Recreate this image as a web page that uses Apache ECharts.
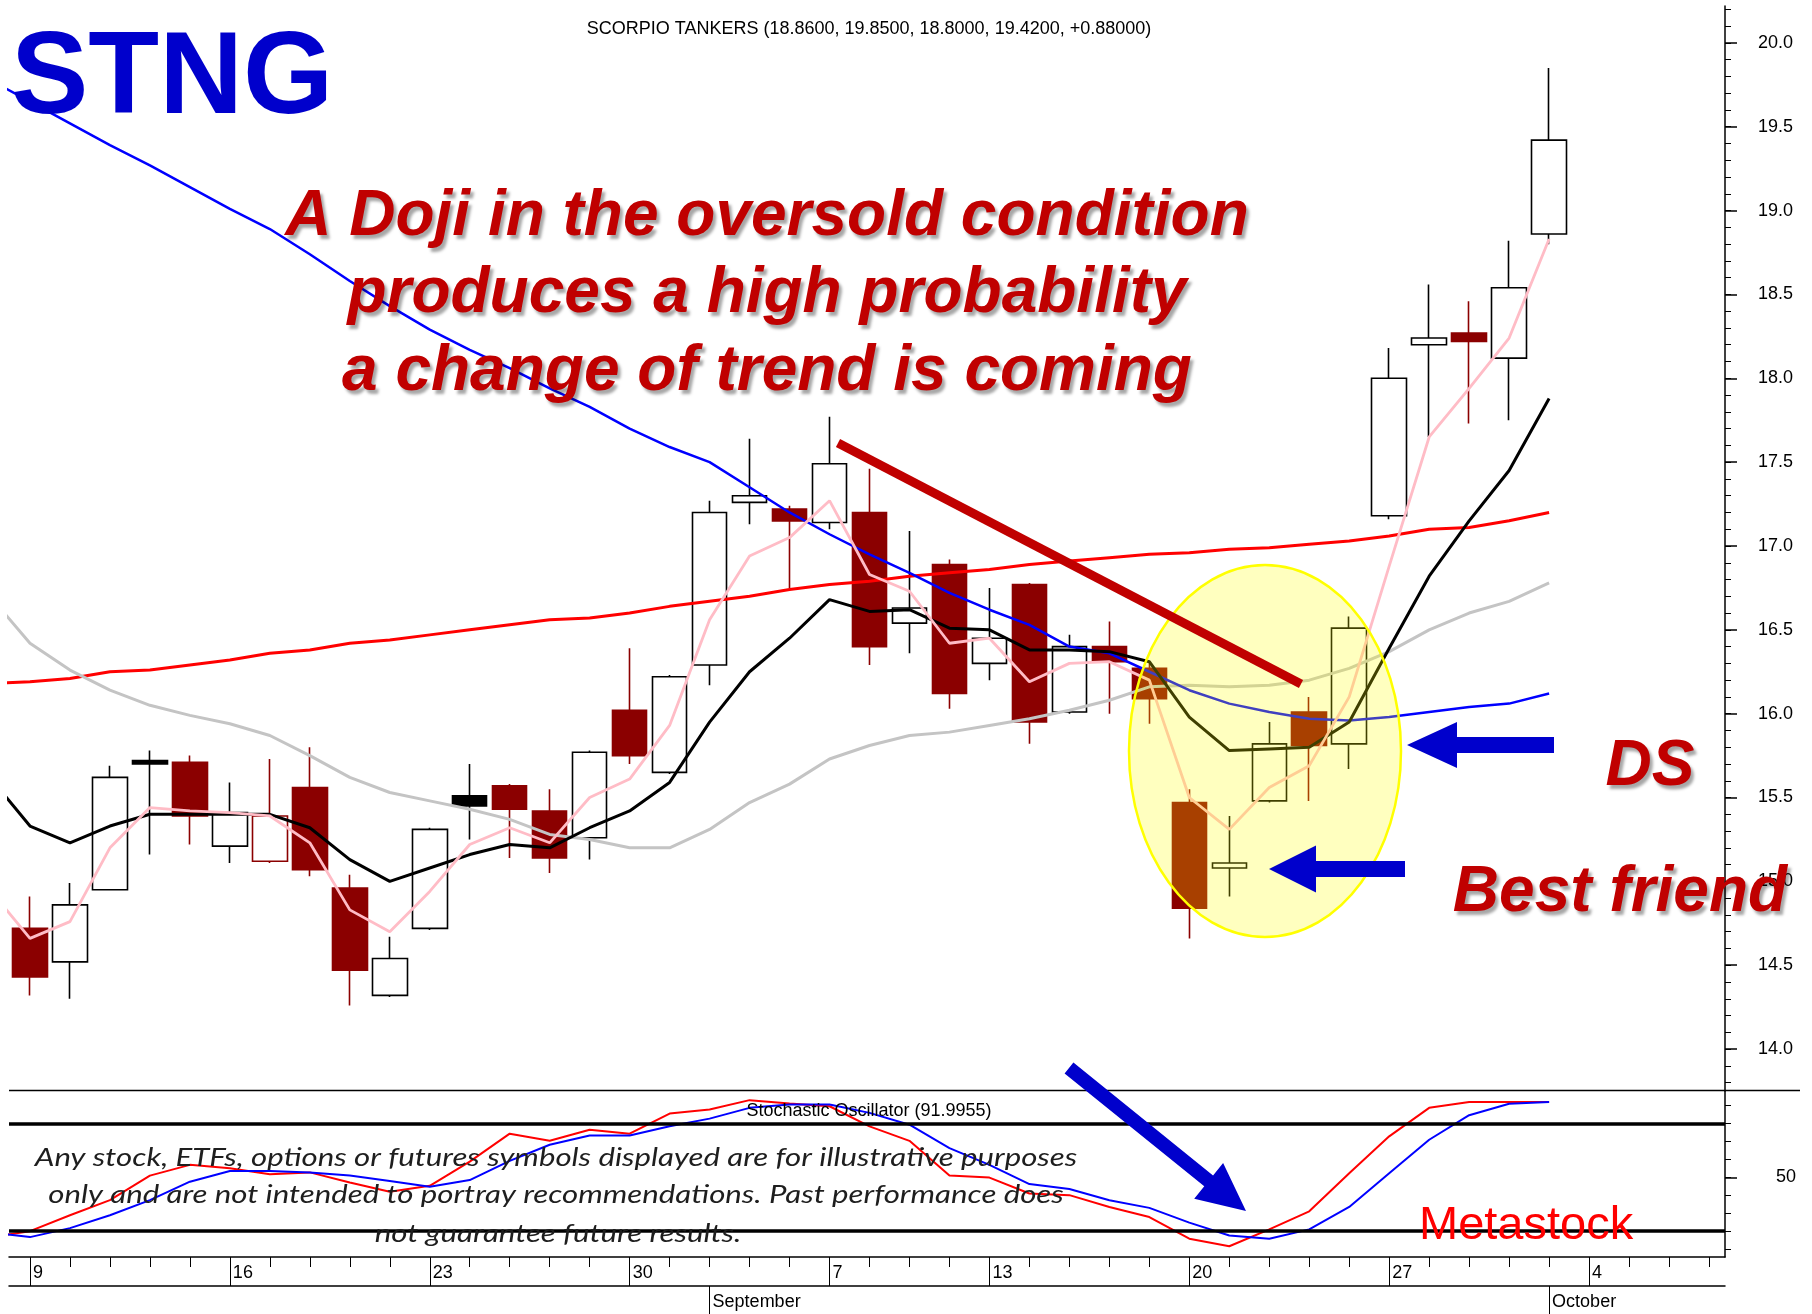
<!DOCTYPE html>
<html>
<head>
<meta charset="utf-8">
<title>STNG - Scorpio Tankers</title>
<script src="https://cdn.jsdelivr.net/npm/echarts@6/dist/echarts.min.js"></script>
<style>
  html, body { margin: 0; padding: 0; background: #fff; }
  #chart { width: 1812px; height: 1314px; }
</style>
</head>
<body>
<div id="chart"></div>
<script>
// daily sessions, Aug 9 .. Oct 1 2021
const dates = [
  '08-09', '08-10', '08-11', '08-12', '08-13', '08-16', '08-17', '08-18', '08-19', '08-20',
  '08-23', '08-24', '08-25', '08-26', '08-27', '08-30', '08-31', '09-01', '09-02', '09-03',
  '09-07', '09-08', '09-09', '09-10', '09-13', '09-14', '09-15', '09-16', '09-17', '09-20',
  '09-21', '09-22', '09-23', '09-24', '09-27', '09-28', '09-29', '09-30', '10-01'
];
const opens = [
  14.72, 14.52, 14.95, 15.72, 15.71, 15.21, 15.12, 15.56, 14.96, 14.32,
  14.72, 15.51, 15.57, 15.42, 15.26, 16.02, 15.65, 16.29, 17.26, 17.22,
  17.14, 17.20, 16.54, 16.89, 16.30, 16.77, 16.01, 16.40, 16.27, 15.47,
  15.08, 15.48, 16.01, 15.82, 17.18, 18.20, 18.27, 18.12, 18.86
];
const highs = [
  14.91, 14.99, 15.69, 15.78, 15.75, 15.59, 15.73, 15.80, 15.04, 14.67,
  15.32, 15.70, 15.58, 15.55, 15.78, 16.39, 16.23, 17.27, 17.64, 17.24,
  17.77, 17.46, 17.09, 16.92, 16.75, 16.78, 16.47, 16.55, 16.31, 15.55,
  15.39, 15.95, 16.10, 16.58, 18.18, 18.56, 18.46, 18.82, 19.85
];
const lows = [
  14.32, 14.30, 14.95, 15.16, 15.22, 15.11, 15.11, 15.03, 14.26, 14.31,
  14.71, 15.25, 15.14, 15.05, 15.13, 15.70, 15.64, 16.17, 17.13, 16.75,
  17.10, 16.29, 16.36, 16.03, 16.20, 15.82, 16.00, 16.00, 15.94, 14.66,
  14.91, 15.47, 15.48, 15.67, 17.16, 17.65, 17.73, 17.75, 18.80
];
const closes = [
  14.43, 14.86, 15.62, 15.70, 15.39, 15.41, 15.39, 15.07, 14.47, 14.54,
  15.31, 15.45, 15.43, 15.14, 15.77, 15.75, 16.22, 17.20, 17.30, 17.15,
  17.49, 16.40, 16.63, 16.12, 16.45, 15.95, 16.40, 16.31, 16.09, 14.84,
  15.11, 15.82, 15.81, 16.51, 18.00, 18.24, 18.22, 18.54, 19.42
];

// the averages and the oscillator start one session earlier (Aug 6)
const maBlue = [
  19.78, 19.65, 19.52, 19.39, 19.27, 19.14, 19.01, 18.89, 18.74, 18.58,
  18.43, 18.29, 18.17, 18.06, 17.94, 17.83, 17.70, 17.59, 17.50, 17.35,
  17.20, 17.07, 16.95, 16.84, 16.72, 16.62, 16.53, 16.40, 16.36, 16.25,
  16.14, 16.06, 16.01, 15.97, 15.96, 15.98, 16.01, 16.04, 16.06, 16.12
];
const maRed = [
  16.18, 16.19, 16.21, 16.25, 16.26, 16.29, 16.32, 16.36, 16.38, 16.42,
  16.44, 16.47, 16.50, 16.53, 16.56, 16.57, 16.60, 16.64, 16.67, 16.70,
  16.74, 16.77, 16.79, 16.82, 16.84, 16.86, 16.89, 16.91, 16.93, 16.95,
  16.96, 16.98, 16.99, 17.01, 17.03, 17.06, 17.10, 17.11, 17.15, 17.20
];
const maGrey = [
  16.70, 16.42, 16.26, 16.14, 16.05, 15.99, 15.94, 15.87, 15.75, 15.62,
  15.53, 15.48, 15.43, 15.37, 15.28, 15.25, 15.20, 15.20, 15.31, 15.47,
  15.58, 15.73, 15.81, 15.87, 15.89, 15.93, 15.97, 16.02, 16.08, 16.16,
  16.17, 16.16, 16.17, 16.20, 16.27, 16.37, 16.50, 16.60, 16.67, 16.78
];
const maBlack = [
  15.62, 15.33, 15.23, 15.33, 15.40, 15.40, 15.40, 15.40, 15.32, 15.13,
  15.00, 15.08, 15.16, 15.22, 15.20, 15.32, 15.42, 15.59, 15.95, 16.25,
  16.45, 16.68, 16.61, 16.62, 16.51, 16.50, 16.38, 16.38, 16.37, 16.31,
  15.98, 15.78, 15.79, 15.80, 15.95, 16.39, 16.82, 17.15, 17.45, 17.88
];
const maPink = [
  14.95, 14.66, 14.76, 15.20, 15.44, 15.42, 15.41, 15.39, 15.23, 14.83,
  14.70, 14.94, 15.22, 15.32, 15.23, 15.50, 15.61, 15.93, 16.56, 16.94,
  17.05, 17.27, 16.83, 16.73, 16.42, 16.45, 16.19, 16.30, 16.31, 16.20,
  15.50, 15.31, 15.56, 15.69, 16.10, 16.88, 17.65, 17.94, 18.24, 18.83
];
const stochK = [
  16.6, 20.0, 28.9, 37.3, 51.0, 57.0, 55.1, 51.7, 52.8, 47.2,
  42.0, 45.3, 58.8, 74.4, 70.4, 76.6, 74.4, 85.6, 87.9, 93.1,
  91.2, 89.7, 78.5, 70.4, 51.0, 49.9, 41.0, 40.1, 33.5, 27.9,
  15.8, 11.6, 21.0, 31.1, 52.3, 72.9, 88.8, 92.0, 92.0, 92.0
];
const stochD = [
  19.3, 16.7, 21.7, 28.9, 37.3, 47.6, 53.6, 53.6, 52.8, 51.0,
  48.0, 44.8, 48.5, 59.2, 68.2, 73.4, 73.4, 78.5, 82.8, 88.8,
  90.7, 90.7, 86.0, 79.4, 66.3, 57.0, 46.3, 43.5, 37.3, 33.0,
  24.8, 17.6, 15.8, 21.0, 33.5, 52.3, 71.0, 84.7, 91.1, 92.0
];

// axis ticks and labels
const priceTicks = [14.0, 14.5, 15.0, 15.5, 16.0, 16.5, 17.0, 17.5, 18.0, 18.5, 19.0, 19.5, 20.0];
const stochTicks = [10, 20, 30, 40, 50, 60, 70, 80, 90];
const stochLabels = [50];
const dayTickIdx = [0, 5, 10, 15, 20, 24, 29, 34, 39];
const dayTickLabels = ['9', '16', '23', '30', '7', '13', '20', '27', '4'];
const monthTickIdx = [17, 38];
const monthLabels = ['September', 'October'];

const X_MIN = -0.525, X_MAX = 42.4;
const FONT = '"Liberation Sans", Arial, sans-serif';
const DARK_RED = '#8b0000';

const priceMinor = [];
for (let v = 138; v <= 202; v++) priceMinor.push(v / 10);
const allDays = [];
for (let i = 0; i <= 42; i++) allDays.push(i);

// hollow = close above open, red = close below the previous close
const candles = opens.map((o, i) => {
  const c = closes[i];
  const col = (i === 0 || c < closes[i - 1]) ? DARK_RED : '#000';
  const fill = c < o ? col : '#fff';
  return {
    value: [i, o, c, lows[i], highs[i]],
    itemStyle: { color: fill, color0: fill, borderColor: col, borderColor0: col, borderWidth: 1.6 }
  };
});

const priceLine = (data, color, width) => ({
  type: 'line', xAxisIndex: 0, yAxisIndex: 0,
  data: data.map((v, i) => [i - 1, v]),
  symbol: 'none', silent: true,
  lineStyle: { color: color, width: width }
});

const stochLine = (data, color) => ({
  type: 'line', xAxisIndex: 1, yAxisIndex: 2,
  data: data.map((v, i) => [i - 1, v]),
  symbol: 'none', silent: true,
  lineStyle: { color: color, width: 2 }
});

function arrowPoints(x1, y1, x2, y2, shaft, head, headLen) {
  const len = Math.hypot(x2 - x1, y2 - y1);
  const ux = (x2 - x1) / len, uy = (y2 - y1) / len;
  const nx = -uy, ny = ux;
  const bx = x2 - ux * headLen, by = y2 - uy * headLen;
  return [
    [x1 + nx * shaft, y1 + ny * shaft],
    [bx + nx * shaft, by + ny * shaft],
    [bx + nx * head, by + ny * head],
    [x2, y2],
    [bx - nx * head, by - ny * head],
    [bx - nx * shaft, by - ny * shaft],
    [x1 - nx * shaft, y1 - ny * shaft]
  ];
}

const redText = (text, x, y, align) => ({
  type: 'text', z: 120,
  style: {
    text: text, x: x, y: y, textAlign: align || 'center', textVerticalAlign: 'middle',
    font: 'italic bold 64px ' + FONT, fill: '#c00000',
    textShadowColor: 'rgba(0,0,0,0.35)', textShadowBlur: 3,
    textShadowOffsetX: 3, textShadowOffsetY: 4
  }
});

const arrow = (pts) => ({
  type: 'polygon', z: 115, shape: { points: pts }, style: { fill: '#0000cc' }
});

const plainText = (text, x, y, font, fill, align) => ({
  type: 'text', z: 120,
  style: { text: text, x: x, y: y, textAlign: align || 'center', textVerticalAlign: 'middle', font: font, fill: fill }
});

// disclaimer is set in a wide italic, stretch Lato a bit to match
const noteText = (text, x, y) => ({
  type: 'text', z: 120, x: x, y: y, scaleX: 1.2,
  style: { text: text, x: 0, y: 0, textAlign: 'center', textVerticalAlign: 'middle', font: 'italic 26px Lato, ' + FONT, fill: '#1e1e1e' }
});

const chart = echarts.init(document.getElementById('chart'), null, { renderer: 'canvas' });

const axisText = { color: '#000', fontSize: 18, fontFamily: FONT };
const blackLine = { color: '#000', width: 1.5 };

chart.setOption({
  animation: false,
  backgroundColor: '#fff',
  grid: [
    { left: 9, right: 87, top: 6, height: 1085, containLabel: false, outerBoundsMode: 'none' },
    { left: 9, right: 87, top: 1091, height: 166, containLabel: false, outerBoundsMode: 'none' }
  ],
  xAxis: [
    { type: 'value', gridIndex: 0, min: X_MIN, max: X_MAX, show: false },
    {
      type: 'value', gridIndex: 1, min: X_MIN, max: X_MAX, position: 'bottom',
      axisLine: { show: true, onZero: false, lineStyle: blackLine },
      axisTick: { show: true, customValues: allDays, length: 10, lineStyle: { color: '#000', width: 1 } },
      axisLabel: { show: false },
      splitLine: { show: false }
    },
    {
      type: 'value', gridIndex: 1, min: X_MIN, max: X_MAX, position: 'bottom',
      axisLine: { show: false, onZero: false },
      axisTick: { show: true, customValues: dayTickIdx, length: 29, lineStyle: { color: '#000', width: 1 } },
      axisLabel: Object.assign({
        customValues: dayTickIdx, align: 'left', margin: 7, padding: [0, 0, 0, 3],
        formatter: (v) => dayTickLabels[dayTickIdx.indexOf(v)]
      }, axisText),
      splitLine: { show: false }
    },
    {
      type: 'value', gridIndex: 1, min: X_MIN, max: X_MAX, position: 'bottom', offset: 29,
      axisLine: { show: true, onZero: false, lineStyle: blackLine },
      axisTick: { show: true, customValues: monthTickIdx, length: 28, lineStyle: { color: '#000', width: 1 } },
      axisLabel: Object.assign({
        customValues: monthTickIdx, align: 'left', margin: 7, padding: [0, 0, 0, 3],
        formatter: (v) => monthLabels[monthTickIdx.indexOf(v)]
      }, axisText),
      splitLine: { show: false }
    }
  ],
  yAxis: [
    {
      type: 'value', gridIndex: 0, position: 'right', min: 13.75, max: 20.22,
      axisLine: { show: true, onZero: false, lineStyle: blackLine },
      axisTick: { show: true, customValues: priceTicks, length: 12, lineStyle: { color: '#000', width: 1.5 } },
      axisLabel: Object.assign({ customValues: priceTicks, margin: 33, formatter: (v) => v.toFixed(1) }, axisText),
      splitLine: { show: false }
    },
    {
      type: 'value', gridIndex: 0, position: 'right', min: 13.75, max: 20.22,
      axisLine: { show: false, onZero: false },
      axisTick: { show: true, customValues: priceMinor, length: 6, lineStyle: { color: '#000', width: 1 } },
      axisLabel: { show: false },
      splitLine: { show: false }
    },
    {
      type: 'value', gridIndex: 1, position: 'right', min: 5.6, max: 98.2,
      axisLine: { show: true, onZero: false, lineStyle: blackLine },
      axisTick: { show: true, customValues: stochTicks, length: 6, lineStyle: { color: '#000', width: 1 } },
      axisLabel: Object.assign({ customValues: stochLabels, margin: 51 }, axisText),
      splitLine: { show: false }
    },
    {
      type: 'value', gridIndex: 1, position: 'right', min: 5.6, max: 98.2,
      axisLine: { show: false, onZero: false },
      axisTick: { show: true, customValues: stochLabels, length: 12, lineStyle: { color: '#000', width: 1.5 } },
      axisLabel: { show: false },
      splitLine: { show: false }
    }
  ],
  series: [
    {
      type: 'candlestick', xAxisIndex: 0, yAxisIndex: 0,
      barWidth: 35, silent: true,
      encode: { x: 0, y: [1, 2, 3, 4] },
      data: candles
    },
    priceLine(maRed, '#ff0000', 3),
    priceLine(maGrey, '#c4c4c4', 3),
    priceLine(maBlue, '#0000ff', 2.5),
    priceLine(maBlack, '#000000', 3),
    priceLine(maPink, '#ffbcc6', 2.8),
    Object.assign(stochLine(stochK, '#ff0000'), {
      markLine: {
        silent: true, symbol: 'none', label: { show: false },
        lineStyle: { color: '#000', width: 3.5, type: 'solid' },
        data: [{ yAxis: 80 }, { yAxis: 20 }]
      }
    }),
    stochLine(stochD, '#0000ff')
  ],
  graphic: [
    { type: 'line', z: 100, shape: { x1: 9, y1: 1090.5, x2: 1800, y2: 1090.5 }, style: { stroke: '#000', lineWidth: 1.5 } },
    plainText('SCORPIO TANKERS (18.8600, 19.8500, 18.8000, 19.4200, +0.88000)', 869, 29, '18px ' + FONT, '#000'),
    plainText('Stochastic Oscillator (91.9955)', 869, 1111, '18px ' + FONT, '#000'),
    plainText('STNG', 11, 81, 'bold 116px ' + FONT, '#0000cc', 'left'),
    {
      type: 'ellipse', z: 110,
      shape: { cx: 1265, cy: 751, rx: 136, ry: 186 },
      style: { fill: 'rgba(255,255,0,0.25)', stroke: '#ffff00', lineWidth: 2.5 }
    },
    { type: 'line', z: 112, shape: { x1: 838, y1: 443, x2: 1301, y2: 684 }, style: { stroke: '#c00000', lineWidth: 9 } },
    arrow(arrowPoints(1554, 745, 1407, 745, 8, 23, 50)),
    arrow(arrowPoints(1405, 869, 1269, 869, 8, 23.5, 47)),
    arrow(arrowPoints(1069, 1068, 1246, 1211, 7, 23, 48)),
    redText('A Doji in the oversold condition', 767, 217),
    redText('produces a high probability', 767, 294),
    redText('a change of trend is coming', 767, 372),
    redText('DS', 1650, 767),
    redText('Best friend', 1620, 893),
    plainText('Metastock', 1419, 1226, '47px ' + FONT, '#ff0000', 'left'),
    noteText('Any stock, ETFs, options or futures symbols displayed are for illustrative purposes', 556, 1158),
    noteText('only and are not intended to portray recommendations. Past performance does', 556, 1195),
    noteText('not guarantee future results.', 558, 1234)
  ]
});
</script>
</body>
</html>
